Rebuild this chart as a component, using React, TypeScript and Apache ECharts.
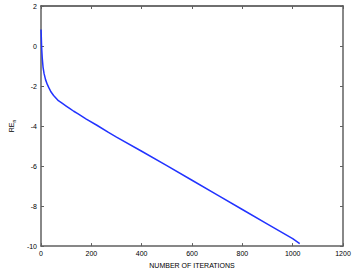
import React, { useEffect, useRef } from "react";
import * as echarts from "echarts";

const iterations = [0, 1, 2, 3, 5, 8, 12, 18, 25, 31, 40, 50, 69, 85, 100, 115, 130, 146, 180, 222, 268, 300, 400, 500, 600, 700, 800, 900, 1000, 1028];
const reValues = [0.83, 0.5, 0.1, -0.2, -0.62, -1.05, -1.37, -1.68, -1.92, -2.08, -2.3, -2.47, -2.73, -2.87, -3.0, -3.13, -3.26, -3.38, -3.65, -3.96, -4.32, -4.55, -5.26, -5.98, -6.71, -7.44, -8.17, -8.9, -9.63, -9.88];
const xTicks = [0, 200, 400, 600, 800, 1000, 1200];
const yTicks = [-10, -8, -6, -4, -2, 0, 2];

export default function App() {
  const ref = useRef<HTMLDivElement>(null);
  useEffect(() => {
    if (!ref.current) return;
    const chart = echarts.init(ref.current, null, { renderer: "svg" });
    const axisColor = "#606060";
    const font = "Liberation Sans, Arial, sans-serif";
    const data = iterations.map((x, i) => [x, reValues[i]]);
    chart.setOption({
      animation: false,
      grid: { left: 30, top: 6, right: 11, bottom: 21, containLabel: false },
      xAxis: [
        {
          type: "value",
          min: xTicks[0],
          max: xTicks[xTicks.length - 1],
          interval: 200,
          name: "NUMBER OF ITERATIONS",
          nameLocation: "middle",
          nameGap: 11,
          nameTextStyle: { fontSize: 7, color: "#000", fontFamily: font },
          axisLine: { show: true, onZero: false, lineStyle: { color: axisColor, width: 1.5 } },
          axisTick: { show: true, inside: true, length: 3, lineStyle: { color: axisColor } },
          axisLabel: { fontSize: 7, color: "#000", margin: 4, fontFamily: font, formatter: (v: number) => String(v) },
          splitLine: { show: false },
        },
        {
          type: "value",
          position: "top",
          min: 0,
          max: 1200,
          interval: 200,
          axisLine: { show: true, onZero: false, lineStyle: { color: "#404040", width: 1.5 } },
          axisTick: { show: true, inside: true, length: 3, lineStyle: { color: axisColor } },
          axisLabel: { show: false },
          splitLine: { show: false },
        },
      ],
      yAxis: [
        {
          type: "value",
          min: yTicks[0],
          max: yTicks[yTicks.length - 1],
          interval: 2,
          name: "{a|RE}{b|n}",
          nameLocation: "middle",
          nameGap: 24,
          nameRotate: 90,
          nameTextStyle: {
            color: "#000",
            fontFamily: font,
            rich: {
              a: { fontSize: 7, fontFamily: font, color: "#000" },
              b: { fontSize: 5, fontFamily: font, color: "#000", padding: [4, 0, 0, 0] },
            },
          },
          axisLine: { show: true, onZero: false, lineStyle: { color: axisColor, width: 1.5 } },
          axisTick: { show: true, inside: true, length: 3, lineStyle: { color: axisColor } },
          axisLabel: { fontSize: 7, color: "#000", margin: 4, fontFamily: font, formatter: (v: number) => String(v) },
          splitLine: { show: false },
        },
        {
          type: "value",
          position: "right",
          min: -10,
          max: 2,
          interval: 2,
          axisLine: { show: true, onZero: false, lineStyle: { color: axisColor, width: 1.5 } },
          axisTick: { show: true, inside: true, length: 3, lineStyle: { color: axisColor } },
          axisLabel: { show: false },
          splitLine: { show: false },
        },
      ],
      series: [
        {
          type: "line",
          data,
          xAxisIndex: 0,
          yAxisIndex: 0,
          showSymbol: false,
          smooth: false,
          lineStyle: { color: "#2233ff", width: 1.5 },
        },
      ],
    });
    return () => chart.dispose();
  }, []);
  return <div ref={ref} style={{ width: 354, height: 274, position: "absolute", left: 0, top: 0, background: "#fff" }} />;
}
